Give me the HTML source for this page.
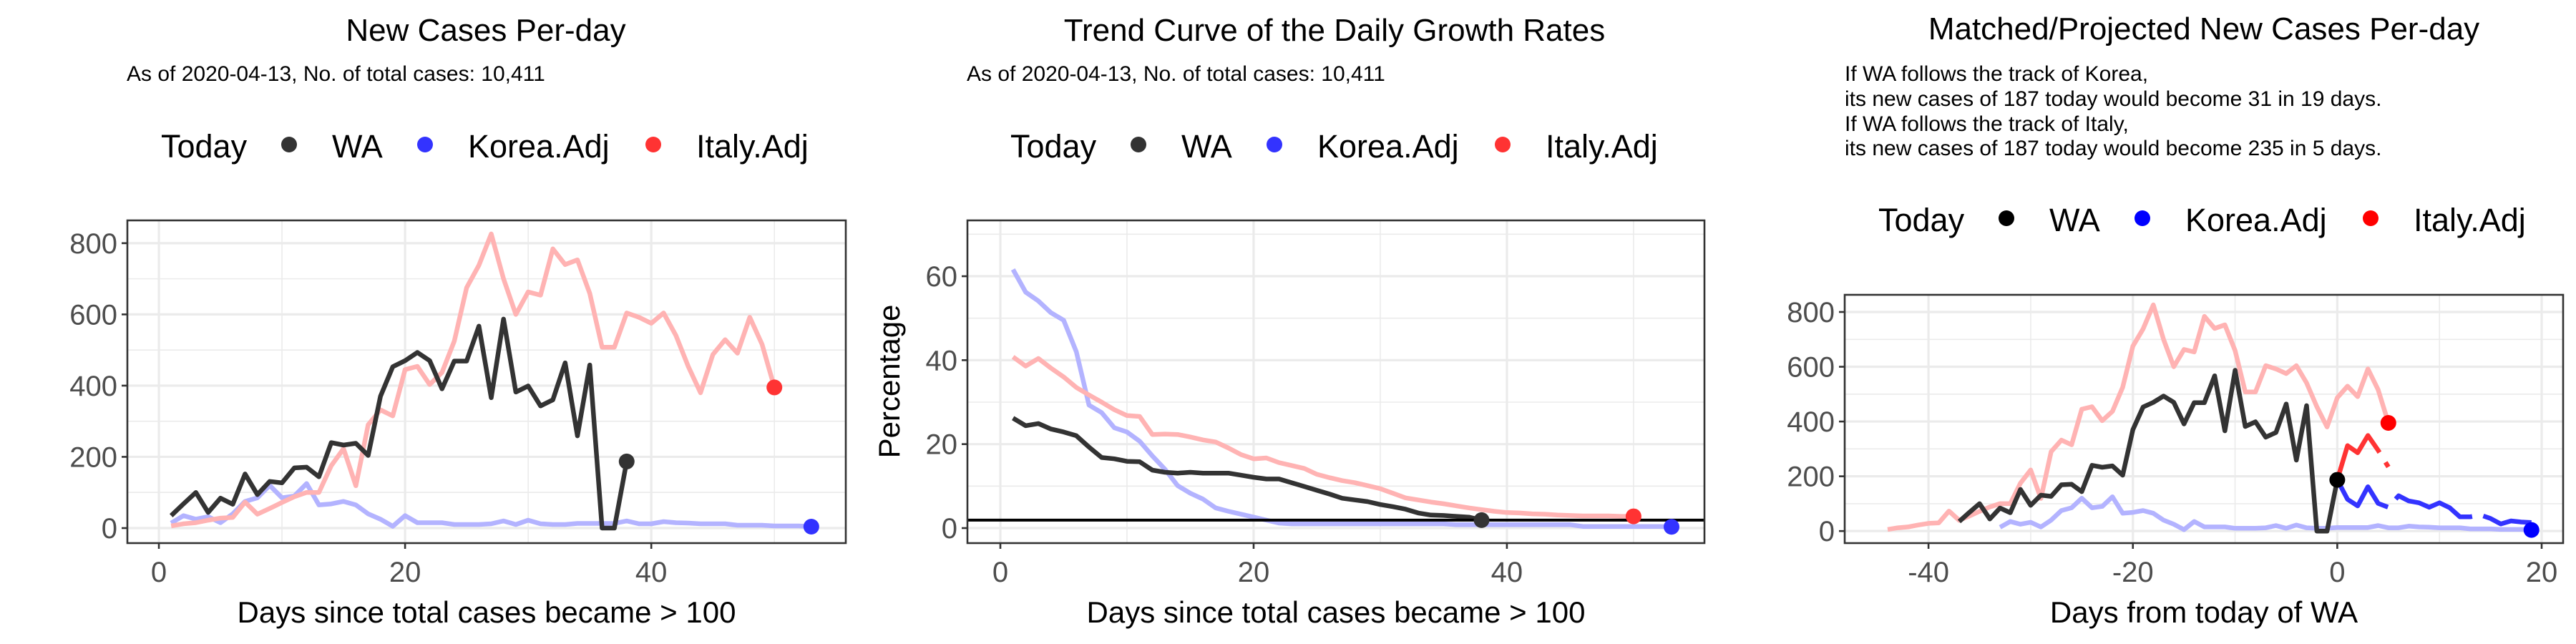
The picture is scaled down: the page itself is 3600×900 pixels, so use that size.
<!DOCTYPE html>
<html>
<head>
<meta charset="utf-8">
<style>
html,body{margin:0;padding:0;background:#fff;}
svg{display:block;font-family:"Liberation Sans",sans-serif;}
</style>
</head>
<body>
<svg id="chart" xmlns="http://www.w3.org/2000/svg" width="3600" height="900" viewBox="0 0 3600 900">
<rect x="0" y="0" width="3600" height="900" fill="#fff"/>
<text x="679" y="57" font-size="44" text-anchor="middle" fill="#000">New Cases Per-day</text>
<text x="177" y="113" font-size="30" fill="#000">As of 2020-04-13, No. of total cases: 10,411</text>
<text x="1865" y="57" font-size="44" text-anchor="middle" fill="#000">Trend Curve of the Daily Growth Rates</text>
<text x="1351" y="113" font-size="30" fill="#000">As of 2020-04-13, No. of total cases: 10,411</text>
<text x="3080" y="55" font-size="44" text-anchor="middle" fill="#000">Matched/Projected New Cases Per-day</text>
<g font-size="30" fill="#000">
<text x="2578" y="113">If WA follows the track of Korea,</text>
<text x="2578" y="148">its new cases of 187 today would become 31 in 19 days.</text>
<text x="2578" y="183">If WA follows the track of Italy,</text>
<text x="2578" y="217">its new cases of 187 today would become 235 in 5 days.</text>
</g>
<text x="680" y="870" font-size="42" text-anchor="middle" fill="#000">Days since total cases became &gt; 100</text>
<text x="1867" y="870" font-size="42" text-anchor="middle" fill="#000">Days since total cases became &gt; 100</text>
<text x="0" y="0" font-size="42" text-anchor="middle" fill="#000" transform="translate(1257,533) rotate(-90)">Percentage</text>
<text x="3080" y="870" font-size="42" text-anchor="middle" fill="#000">Days from today of WA</text>
</svg>
<script>
const waNew = [35,68,100,44,84,67,152,94,131,127,169,171,144,240,233,238,204,370,453,470,493,470,391,469,469,567,366,587,382,399,343,360,464,259,458,0,0,187];
const italyNew = [6,12,15,22,28,30,73,39,55,72,88,100,100,175,223,119,290,332,315,445,454,403,437,525,675,738,826,700,600,663,654,784,740,753,659,508,508,604,592,575,604,541,454,380,487,529,491,592,516,395];
const koreaNew = [14,35,25,32,15,40,75,85,120,85,90,125,65,68,75,65,40,25,5,35,15,15,15,10,10,10,12,20,10,22,12,10,10,13,13,13,13,20,12,12,18,15,14,12,12,12,8,8,8,6,6,6,4];
const waRate = [26.2,24.4,24.9,23.6,22.9,22.0,19.3,16.8,16.5,15.9,15.8,13.8,13.3,13.1,13.3,13.1,13.1,13.1,12.6,12.1,11.7,11.7,10.8,9.9,9.0,8.1,7.1,6.7,6.3,5.6,5.1,4.5,3.6,3.1,3.0,2.8,2.6,1.9];
const italyRate = [40.8,38.6,40.4,38.1,36.0,33.5,31.7,30.0,28.2,26.8,26.6,22.3,22.4,22.3,21.7,21.0,20.5,19.1,17.5,16.5,16.7,15.6,14.9,14.2,12.8,12.0,11.3,10.8,10.1,9.4,8.3,7.2,6.7,6.2,5.8,5.3,4.8,4.4,4.0,3.7,3.6,3.4,3.3,3.1,3.0,2.9,2.9,2.9,2.8,2.8];
const koreaRate = [61.6,56.2,54.1,51.3,49.5,42.0,29.3,27.5,23.9,22.9,20.7,17.2,14.0,10.1,8.3,6.9,4.8,4.0,3.3,2.6,1.9,1.2,1.0,1.0,1.0,1.0,1.0,1.0,1.0,1.0,1.0,1.0,1.0,1.0,1.0,0.8,0.8,0.8,0.8,0.8,0.8,0.8,0.8,0.8,0.8,0.4,0.4,0.4,0.4,0.4,0.4,0.4,0.3];
const rateRefLine = 1.9;
const italyProj = [187,312,286,349,295,234];
const koreaProj = [187,116,92,162,101,87,129,110,103,87,103,85,52,52,59,46,26,37,33,31];
const waShift = -38, italyShift = -45, koreaShift = -34;
const yTicks1 = [0,200,400,600,800];
const yTicks2 = [0,20,40,60];
const xTicks1 = [0,20,40];
const xTicks3 = [-40,-20,0,20];
const legendLabels = ["WA","Korea.Adj","Italy.Adj"];

const NS = "http://www.w3.org/2000/svg";
const svg = document.getElementById('chart');
function mk(tag, attrs, parent){
  const e = document.createElementNS(NS, tag);
  for (const k in attrs) e.setAttribute(k, attrs[k]);
  (parent||svg).appendChild(e);
  return e;
}

function panel(cfg){
  const g = mk('g', {});
  
  
  const X = v => cfg.L + (v - cfg.x0) / (cfg.x1 - cfg.x0) * (cfg.R - cfg.L);
  const Y = v => cfg.B - (v - cfg.y0) / (cfg.y1 - cfg.y0) * (cfg.B - cfg.T);
  cfg.yMinor.forEach(v => { const l = mk('line', {x1:cfg.L,x2:cfg.R,y1:Y(v),y2:Y(v),stroke:'#ebebeb','stroke-width':1.6}, g);   });
  cfg.xMinor.forEach(v => { const l = mk('line', {x1:X(v),x2:X(v),y1:cfg.T,y2:cfg.B,stroke:'#ebebeb','stroke-width':1.6}, g);   });
  cfg.yTicks.forEach(v => { const l = mk('line', {x1:cfg.L,x2:cfg.R,y1:Y(v),y2:Y(v),stroke:'#ebebeb','stroke-width':3.2}, g);   });
  cfg.xTicks.forEach(v => { const l = mk('line', {x1:X(v),x2:X(v),y1:cfg.T,y2:cfg.B,stroke:'#ebebeb','stroke-width':3.2}, g);   });
  cfg.series.forEach(s => {
    const pts = s.vals.map((v,i) => X(s.start + i).toFixed(1) + ',' + Y(v).toFixed(1)).join(' ');
    const p = mk('polyline', {points:pts, fill:'none', stroke:s.color, 'stroke-width':s.w||6.5, 'stroke-linejoin':'round'}, g);
    if (s.dash) p.setAttribute('stroke-dasharray', s.dash);
    
    
  });
  (cfg.hline||[]).forEach(v => {
    const l = mk('line', {x1:cfg.L,x2:cfg.R,y1:Y(v),y2:Y(v),stroke:'#000','stroke-width':4}, g);
    
    
  });
  cfg.dots.forEach(d => {
    const c = mk('circle', {cx:X(d.x), cy:Y(d.y), r:11, fill:d.color}, g);
    
    
  });
  const b = mk('rect', {x:cfg.L,y:cfg.T,width:cfg.R-cfg.L,height:cfg.B-cfg.T,fill:'none',stroke:'#333','stroke-width':2.6}, g);
  
  
  cfg.yTicks.forEach(v => {
    const t = mk('line', {x1:cfg.L-8,x2:cfg.L,y1:Y(v),y2:Y(v),stroke:'#333','stroke-width':2.6}, g);
    
    
    const tx = mk('text', {x:cfg.L-14,y:Y(v)+14,'font-size':40,'text-anchor':'end',fill:'#4d4d4d'}, g);
    tx.textContent = v;
    
    
  });
  cfg.xTicks.forEach(v => {
    const t = mk('line', {x1:X(v),x2:X(v),y1:cfg.B,y2:cfg.B+8,stroke:'#333','stroke-width':2.6}, g);
    
    
    const tx = mk('text', {x:X(v),y:813,'font-size':40,'text-anchor':'middle',fill:'#4d4d4d'}, g);
    tx.textContent = v;
    
    
  });
  const lg = mk('g', {'font-size':45, fill:'#000'}, svg);
  
  
  const ox = cfg.legX, by = cfg.legY;
  const tt = mk('text', {x:ox, y:by}, lg); tt.textContent = 'Today';
   
  const dotX = [179, 369, 688], txtX = [239, 429, 748];
  legendLabels.forEach((lab,i) => {
    const c = mk('circle', {cx:ox+dotX[i], cy:by-18, r:11, fill:cfg.legColors[i]}, lg);
    
    
    const t = mk('text', {x:ox+txtX[i], y:by}, lg); t.textContent = lab;
    
    
  });
}

const PINK = '#ffb3b3', LBLUE = '#b3b3ff', DARK = '#333333';
const alphaCols = ['#333333','#3333ff','#ff3333'];

panel({name:'panel1-new-cases', L:178,R:1182,T:308,B:759, x0:-2.56,x1:55.8, y0:-42.2,y1:864,
  yTicks:yTicks1, yMinor:[100,300,500,700], xTicks:xTicks1, xMinor:[10,30,50],
  series:[
    {name:'korea-line', vals:koreaNew, start:1, color:LBLUE},
    {name:'italy-line', vals:italyNew, start:1, color:PINK},
    {name:'wa-line', vals:waNew, start:1, color:DARK}],
  dots:[
    {name:'wa-today-dot', x:waNew.length, y:waNew[waNew.length-1], color:'#333333'},
    {name:'korea-today-dot', x:koreaNew.length, y:koreaNew[koreaNew.length-1], color:'#3333ff'},
    {name:'italy-today-dot', x:italyNew.length, y:italyNew[italyNew.length-1], color:'#ff3333'}],
  legX:225, legY:220, legColors:alphaCols});

panel({name:'panel2-growth-rates', L:1352,R:2382,T:308,B:759, x0:-2.6,x1:55.6, y0:-3.58,y1:73.3,
  yTicks:yTicks2, yMinor:[10,30,50,70], xTicks:xTicks1, xMinor:[10,30,50],
  series:[
    {name:'korea-rate-line', vals:koreaRate, start:1, color:LBLUE},
    {name:'italy-rate-line', vals:italyRate, start:1, color:PINK},
    {name:'wa-rate-line', vals:waRate, start:1, color:DARK}],
  hline:[rateRefLine],
  dots:[
    {name:'wa-today-dot', x:waRate.length, y:waRate[waRate.length-1], color:'#333333'},
    {name:'korea-today-dot', x:koreaRate.length, y:koreaRate[koreaRate.length-1], color:'#3333ff'},
    {name:'italy-today-dot', x:italyRate.length, y:italyRate[italyRate.length-1], color:'#ff3333'}],
  legX:1412, legY:220, legColors:alphaCols});

panel({name:'panel3-matched-projected', L:2578,R:3582,T:412,B:759, x0:-48.2,x1:22.1, y0:-44,y1:862.7,
  yTicks:yTicks1, yMinor:[100,300,500,700], xTicks:xTicks3, xMinor:[-30,-10,10],
  series:[
    {name:'korea-matched-line', vals:koreaNew, start:1+koreaShift, color:LBLUE},
    {name:'italy-matched-line', vals:italyNew, start:1+italyShift, color:PINK},
    {name:'wa-line', vals:waNew, start:1+waShift, color:DARK},
    {name:'italy-projected-line', vals:italyProj, start:0, color:'#ff3333', dash:'124 16'},
    {name:'korea-projected-line', vals:koreaProj, start:0, color:'#3333ff', dash:'120 16'}],
  dots:[
    {name:'wa-today-dot', x:0, y:waNew[waNew.length-1], color:'#000'},
    {name:'korea-end-dot', x:koreaNew.length+koreaShift, y:koreaNew[koreaNew.length-1], color:'#0000ff'},
    {name:'italy-end-dot', x:italyNew.length+italyShift, y:italyNew[italyNew.length-1], color:'#ff0000'}],
  legX:2625, legY:323, legColors:['#000','#0000ff','#ff0000']});
</script>
</body>
</html>
